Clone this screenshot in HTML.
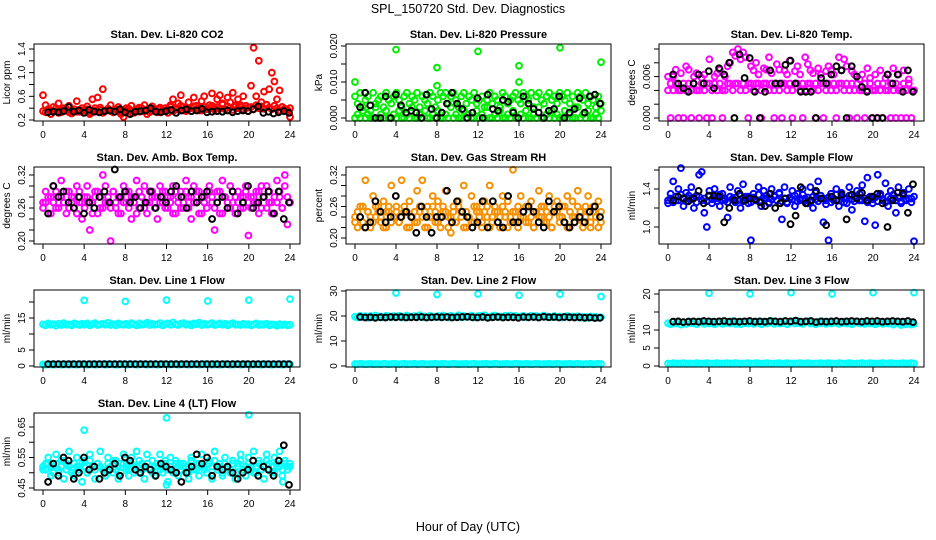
<!DOCTYPE html>
<html><head><meta charset="utf-8"><style>
html,body{margin:0;padding:0;background:#fff;}
svg{display:block;font-family:"Liberation Sans",sans-serif;}
</style></head><body>
<svg id="chart" width="936" height="540" viewBox="0 0 936 540" xmlns="http://www.w3.org/2000/svg">
<rect x="0" y="0" width="936" height="540" fill="#fff"/>
<text x="468" y="13" text-anchor="middle" font-size="12.5">SPL_150720  Std. Dev. Diagnostics</text>
<text x="468" y="531" text-anchor="middle" font-size="12.5">Hour of Day (UTC)</text>
</svg>
<script>
const xTicks = [0,4,8,12,16,20,24];
// CO2
const co2A = [.62,.45,.38,.30,.42,.35,.48,.33,.40,.36,.44,.31,.38,.52,.34,.40,.37,.43,.30,.55,.36,.58,.41,.72,.35,.39,.45,.33,.38,.42,.30,.25,.40,.36,.44,.32,.38,.41,.35,.45,.30,.39,.43,.37,.33,.41,.36,.40,.32,.45,.55,.38,.48,.62,.42,.35,.50,.40,.58,.44,.36,.52,.60,.38,.45,.65,.40,.55,.62,.48,.38,.58,.50,.66,.42,.55,.45,.60,.40,.35,.78,1.42,.60,1.20,.50,.68,.45,.72,1.0,.85,.55,.70,.42,.38,.35,.25];
const co2B = [.35,.33,.38,.36,.34,.40,.32,.37,.35,.39,.33,.36,.38,.34,.37,.35,.36,.38,.33,.35,.40,.34,.37,.32,.36,.39,.35,.33,.38,.36,.34,.37,.35,.39,.33,.36,.38,.34,.40,.35,.37,.33,.36,.39,.34,.38,.35,.36,.38,.42,.35,.40,.37,.44,.36,.41,.39,.35,.43,.38,.40,.36,.42,.39,.40,.44,.37,.42,.39,.46,.38,.43,.41,.37,.45,.40,.42,.38,.44,.41,.42,.38,.45,.40,.43,.39,.46,.41,.38,.44,.40,.36,.42,.39,.37,.40];
const co2K = [.33,.34,.33,.35,.42,.34,.36,.32,.37,.34,.33,.35,.36,.34,.38,.33,.30,.34,.35,.36,.40,.34,.33,.35,.37,.32,.36,.38,.35,.36,.39,.33,.34,.35,.34,.36,.33,.35,.36,.35,.38,.43,.32,.34,.31,.33,.35,.32];
// Pressure
const presA = [.006,.004,.007,.003,.005,.006,.002,.007,.004,.005,.006,.003,.007,.005,.004,.006,.007,.005,.003,.006,.007,.004,.006,.005,.007,.003,.006,.005,.004,.007,.006,.003,.005,.007,.006,.007,.004,.006,.007,.005,.003,.006,.007,.004,.006,.005,.007,.004,.005,.006,.003,.005,.007,.004,.006,.005,.003,.007,.006,.004,.005,.006,.007,.005,.004,.007,.006,.005,.007,.003,.006,.007,.005,.004,.006,.007,.005,.006,.004,.007,.006,.005,.007,.004,.006,.003,.007,.006,.005,.007,.004,.006,.005,.003,.006,.004];
const presB = [0,.001,0,.002,0,.001,0,0,.003,0,.001,0,.002,0,0,.001,0,.002,0,0,.001,0,.003,0,0,.001,0,.002,0,0,.001,0,.002,0,0,.001,0,.003,0,.001,0,0,.002,0,.001,0,0,.002,0,.001,0,.003,0,0,.001,0,.002,0,0,.001,0,.002,0,0,.001,0,.002,0,0,.001,0,.003,0,0,.001,0,.002,0,.001,0,0,.002,0,.001,0,0,.003,0,.001,0,.002,0,0,.001,0,.002];
const presK = [.003,.007,.0035,0,0,.006,0,.0065,.0035,.0015,.002,.0015,0,.0065,.0025,0,.0015,.004,.007,.004,.0025,0,.0015,.0055,0,.0065,.0025,.002,.005,.0045,.0015,0,.006,.004,.0025,.0015,0,.002,.0025,.006,0,.0015,.0025,.0055,.0015,.006,.0065,.004];
const presSpikeHours = [0,4,8,8,12,16,16,20,24];
const presSpikes = [.010,.019,.014,.009,.0185,.0145,.010,.0195,.0155];
// Li-820 temp
const tempA = [.004,.005,.004,.005,.004,.004,.005,.004,.005,.004,.005,.004,.004,.005,.004,.005,.005,.004,.005,.004,.005,.004,.004,.005,.005,.004,.005,.005,.004,.005,.004,.005,.005,.004,.005,.005,.004,.005,.005,.004,.005,.004,.005,.004,.005,.005,.004,.005,.004,.005,.005,.004,.005,.004,.005,.005,.004,.005,.004,.005,.005,.004,.005,.004,.005,.004,.005,.005,.004,.005,.004,.005,.004,.005,.004,.004,.005,.004,.005,.004,.004,.005,.004,.005,.004,.004,.005,.004,.005,.004,.004,.005,.004,.005,.004,.004];
const tempB = [.006,0,.006,.007,0,.0065,0,.0075,.007,0,.006,.0065,0,.0058,.0063,0,.0085,0,.006,.0065,.007,0,.006,.0075,.008,.0095,.009,.010,.0085,.0095,.0088,0,.0075,.0069,.008,.0063,0,.0072,.007,.0088,.0065,0,.0078,.007,0,.0069,.0063,.0083,0,.0068,.0075,.0063,0,.0088,.0078,.0069,.0065,0,.0072,.0063,0,.0068,.0075,.0069,.0063,0,.0088,.0069,.0085,.0075,0,.0068,.0063,0,.0056,.0063,0,.0072,.0058,0,.0063,0,.0069,0,.0058,.0063,0,.0072,0,.0063,0,.0069,0,.0056,0,.004];
const tempK = [.0063,.005,.0043,.0038,.005,.0063,.005,.0068,.0043,.0072,.0063,.008,0,.0092,.0058,.0087,.0038,0,.0038,.0069,.005,.005,.0077,.0083,.005,.0038,.0038,.0038,0,.0058,.005,.0063,.0075,.0069,0,.0075,.006,.0045,.0038,0,0,0,.0063,.005,.0063,.0038,.0069,.0038];
// Box temp
const boxA = [.27,.29,.25,.28,.30,.26,.28,.31,.27,.25,.29,.28,.26,.30,.27,.24,.28,.30,.22,.27,.29,.25,.28,.26,.30,.27,.20,.29,.26,.28,.25,.30,.27,.29,.24,.28,.31,.26,.28,.30,.25,.27,.29,.28,.24,.30,.27,.29,.26,.28,.30,.25,.27,.29,.26,.31,.28,.24,.30,.27,.29,.25,.28,.26,.30,.27,.22,.29,.25,.31,.28,.26,.30,.27,.25,.29,.28,.26,.30,.21,.28,.27,.29,.25,.30,.28,.26,.29,.27,.25,.31,.28,.26,.30,.23,.27];
const boxB = [.26,.27,.28,.25,.27,.29,.26,.28,.27,.29,.26,.27,.28,.25,.29,.27,.26,.28,.27,.25,.28,.29,.26,.32,.27,.28,.26,.29,.27,.25,.28,.27,.29,.26,.28,.27,.25,.29,.28,.26,.27,.29,.28,.26,.28,.27,.29,.26,.28,.27,.25,.29,.28,.26,.27,.29,.26,.28,.27,.29,.25,.28,.27,.26,.29,.28,.26,.27,.29,.25,.28,.27,.26,.29,.28,.27,.26,.28,.29,.27,.26,.28,.27,.29,.26,.28,.30,.27,.25,.28,.27,.29,.26,.32,.28,.27];
const boxK = [.25,.30,.28,.29,.27,.26,.28,.25,.27,.26,.28,.29,.27,.33,.28,.29,.27,.28,.26,.27,.29,.26,.28,.27,.29,.30,.28,.26,.29,.27,.28,.29,.24,.27,.28,.26,.29,.25,.27,.30,.26,.27,.28,.29,.25,.29,.24,.27];
// RH
const rhA = [.24,.22,.26,.23,.31,.25,.22,.28,.24,.26,.23,.27,.22,.25,.30,.24,.26,.23,.31,.25,.22,.27,.24,.23,.29,.25,.31,.22,.26,.24,.28,.23,.27,.22,.25,.29,.24,.21,.26,.23,.27,.25,.30,.22,.24,.28,.23,.26,.25,.22,.27,.24,.30,.23,.26,.25,.22,.28,.24,.27,.23,.33,.25,.22,.28,.24,.26,.23,.27,.22,.25,.29,.24,.26,.23,.28,.22,.25,.27,.24,.26,.23,.28,.22,.27,.24,.29,.25,.23,.26,.28,.22,.25,.24,.27,.23];
const rhB = [.23,.25,.24,.26,.22,.25,.24,.23,.26,.25,.24,.22,.25,.26,.23,.24,.25,.23,.24,.26,.25,.22,.24,.25,.23,.26,.24,.25,.22,.24,.26,.25,.23,.24,.26,.25,.22,.24,.25,.23,.26,.24,.22,.25,.24,.23,.26,.25,.24,.23,.25,.26,.22,.24,.25,.23,.24,.26,.25,.22,.24,.25,.23,.26,.24,.25,.23,.26,.24,.22,.25,.24,.26,.23,.25,.24,.22,.26,.25,.23,.24,.26,.22,.25,.24,.23,.26,.25,.22,.24,.25,.23,.26,.24,.22,.25];
const rhK = [.24,.22,.23,.27,.25,.23,.24,.28,.24,.25,.24,.21,.26,.24,.21,.24,.24,.29,.23,.27,.25,.24,.22,.23,.27,.22,.27,.23,.22,.28,.23,.23,.25,.26,.25,.23,.22,.27,.25,.26,.23,.22,.23,.24,.23,.25,.26,.24];
// Sample flow
const flowA = [1.25,1.35,1.48,1.28,1.40,1.62,1.22,1.36,1.30,1.42,1.20,1.33,1.55,1.58,1.15,1.00,1.38,1.25,1.40,1.30,1.22,1.35,1.28,1.10,1.42,1.30,1.26,1.38,1.20,1.45,1.32,1.25,0.86,1.35,1.28,1.42,1.22,1.38,1.30,1.25,1.40,1.33,1.28,1.36,1.08,1.42,1.25,1.30,1.38,1.22,1.35,1.28,1.40,1.30,1.25,1.42,1.20,1.36,1.48,1.30,1.05,1.24,0.86,1.35,1.28,1.40,1.22,1.36,1.30,1.25,1.42,1.18,1.32,1.38,1.28,1.44,1.06,1.52,1.30,1.25,1.02,1.55,1.35,1.28,1.46,1.22,1.38,1.30,1.15,1.42,1.25,1.36,1.28,1.40,1.30,0.85];
const flowB = [1.28,1.30,1.26,1.32,1.28,1.34,1.30,1.27,1.33,1.29,1.31,1.26,1.32,1.28,1.30,1.27,1.33,1.29,1.31,1.27,1.34,1.28,1.30,1.26,1.32,1.29,1.31,1.28,1.33,1.27,1.30,1.32,1.26,1.31,1.28,1.34,1.27,1.30,1.33,1.26,1.29,1.32,1.28,1.35,1.27,1.30,1.26,1.31,1.29,1.33,1.27,1.30,1.34,1.28,1.31,1.26,1.32,1.29,1.27,1.33,1.30,1.28,1.31,1.26,1.30,1.34,1.28,1.32,1.26,1.30,1.33,1.29,1.27,1.31,1.35,1.28,1.30,1.26,1.32,1.29,1.31,1.27,1.33,1.29,1.26,1.32,1.30,1.34,1.28,1.31,1.27,1.33,1.29,1.30,1.26,1.32];
const flowK = [1.28,1.32,1.30,1.27,1.30,1.38,1.25,1.33,1.33,1.32,1.05,1.20,1.28,1.35,1.28,1.30,1.29,1.26,1.22,1.35,1.20,1.25,1.30,1.03,1.12,1.42,1.25,1.28,1.38,1.30,1.02,1.32,1.28,1.34,1.08,1.34,1.30,1.36,1.28,1.32,1.35,1.25,1.00,1.28,1.36,1.35,1.15,1.45];
// Line flows
const spikeHours = [4,8,12,16,20,24];
const line1A = [13.0,12.7,13.3,12.9,13.1,12.6,13.2,12.8,13.4,12.9,13.0,12.7,13.3,13.1,12.8,13.2,12.9,13.3,12.7,13.1,13.4,12.8,13.0,13.2,12.9,13.5,12.8,13.1,12.7,13.3,13.0,12.9,13.2,12.8,13.4,13.0,12.7,13.3,12.9,13.1,13.5,12.8,13.2,12.9,13.0,13.4,12.7,13.1,13.3,12.9,13.6,13.0,12.8,13.2,13.4,12.9,13.1,12.7,13.3,13.0,13.5,12.8,13.2,12.9,13.1,13.4,12.8,13.0,13.3,12.9,13.2,12.7,13.1,13.4,12.9,13.0,12.8,13.2,12.9,13.1,12.7,13.0,13.3,12.8,13.1,12.9,13.2,12.7,13.0,12.9,12.6,13.1,12.8,13.0,12.7,12.9];
const line1B = [.5,.4,.6,.5,.4,.5,.6,.4,.5,.5,.4,.6,.5,.4,.5,.6,.5,.4,.5,.6,.4,.5,.5,.6,.4,.5,.6,.5,.4,.5,.5,.6,.4,.5,.6,.5,.4,.5,.6,.5,.4,.5,.5,.6,.4,.5,.6,.5,.4,.5,.5,.6,.4,.5,.6,.5,.4,.5,.5,.6,.4,.5,.6,.5,.5,.4,.6,.5,.4,.5,.6,.5,.4,.5,.5,.6,.4,.5,.6,.5,.4,.5,.5,.6,.4,.5,.6,.5,.4,.5,.5,.6,.4,.5,.6,.5];
const line1K = [.6,.6,.6,.6,.6,.6,.6,.6,.6,.6,.6,.6,.6,.6,.6,.6,.6,.6,.6,.6,.6,.6,.6,.6,.6,.6,.6,.6,.6,.6,.6,.6,.6,.6,.6,.6,.6,.6,.6,.6,.6,.6,.6,.6,.6,.6,.6,.6];
const line1Spikes = [20.5,20.2,20.6,20.3,20.6,20.9];
const line2A = [19.7,19.4,20.1,19.6,19.9,19.3,20.0,19.5,20.2,19.7,19.8,19.4,20.1,19.9,19.5,20.0,19.6,20.1,19.4,19.8,20.2,19.5,19.7,20.0,19.6,20.3,19.5,19.8,19.4,20.1,19.7,19.6,20.0,19.5,20.2,19.7,19.4,20.1,19.6,19.8,20.3,19.5,20.0,19.6,19.7,20.2,19.4,19.8,20.1,19.6,20.3,19.7,19.5,20.0,20.2,19.6,19.8,19.4,20.1,19.7,20.2,19.5,20.0,19.6,19.8,20.1,19.5,19.7,20.1,19.6,20.0,19.4,19.8,20.2,19.6,19.7,19.5,20.0,19.6,19.8,19.4,19.7,20.0,19.5,19.8,19.6,19.9,19.3,19.7,19.6,19.2,19.8,19.4,19.7,19.3,19.5];
const line2B = [.8,.7,.9,.8,.7,.8,.9,.7,.8,.8,.7,.9,.8,.7,.8,.9,.8,.7,.8,.9,.7,.8,.8,.9,.7,.8,.9,.8,.7,.8,.8,.9,.7,.8,.9,.8,.7,.8,.9,.8,.7,.8,.8,.9,.7,.8,.9,.8,.7,.8,.8,.9,.7,.8,.9,.8,.7,.8,.8,.9,.7,.8,.9,.8,.8,.7,.9,.8,.7,.8,.9,.8,.7,.8,.8,.9,.7,.8,.9,.8,.7,.8,.8,.9,.7,.8,.9,.8,.7,.8,.8,.9,.7,.8,.9,.8];
const line2K = [19.6,19.4,19.5,19.3,19.5,19.4,19.6,19.5,19.6,19.4,19.5,19.5,19.6,19.4,19.5,19.6,19.5,19.6,19.4,19.5,19.6,19.7,19.5,19.4,19.6,19.3,19.5,19.6,19.4,19.5,19.5,19.3,19.6,19.5,19.6,19.4,19.7,19.5,19.6,19.4,19.6,19.5,19.4,19.5,19.3,19.4,19.2,19.3];
const line2Spikes = [29.2,28.6,28.8,28.3,28.7,27.8];
const line3A = [11.9,11.6,12.3,11.8,12.1,11.5,12.2,11.7,12.4,11.9,12.0,11.6,12.3,12.1,11.7,12.2,11.8,12.3,11.6,12.0,12.4,11.7,11.9,12.2,11.8,12.5,11.7,12.0,11.6,12.3,11.9,11.8,12.2,11.7,12.4,11.9,11.6,12.3,11.8,12.0,12.5,11.7,12.2,11.8,11.9,12.4,11.6,12.0,12.3,11.8,12.5,11.9,11.7,12.2,12.4,11.8,12.0,11.6,12.3,11.9,12.4,11.7,12.2,11.8,12.0,12.3,11.7,11.9,12.3,11.8,12.2,11.6,12.0,12.4,11.8,11.9,11.7,12.2,11.8,12.0,11.6,11.9,12.2,11.7,12.0,11.8,12.1,11.5,11.9,11.8,11.4,12.0,11.6,11.9,11.5,11.7];
const line3B = [.7,.6,.8,.7,.6,.7,.8,.6,.7,.7,.6,.8,.7,.6,.7,.8,.7,.6,.7,.8,.6,.7,.7,.8,.6,.7,.8,.7,.6,.7,.7,.8,.6,.7,.8,.7,.6,.7,.8,.7,.6,.7,.7,.8,.6,.7,.8,.7,.6,.7,.7,.8,.6,.7,.8,.7,.6,.7,.7,.8,.6,.7,.8,.7,.7,.6,.8,.7,.6,.7,.8,.7,.6,.7,.7,.8,.6,.7,.8,.7,.6,.7,.7,.8,.6,.7,.8,.7,.6,.7,.7,.8,.6,.7,.8,.7];
const line3K = [12.3,12.4,12.2,12.3,12.4,12.3,12.5,12.4,12.3,12.4,12.5,12.3,12.4,12.3,12.4,12.5,12.3,12.4,12.3,12.5,12.4,12.3,12.5,12.4,12.6,12.3,12.4,12.5,12.2,12.4,12.3,12.4,12.5,12.3,12.4,12.5,12.4,12.3,12.5,12.4,12.5,12.3,12.4,12.5,12.4,12.3,12.5,12.2];
const line3Spikes = [20.2,20.0,20.4,20.0,20.4,20.4];
const line4A = [.51,.53,.55,.49,.52,.56,.50,.54,.48,.53,.57,.51,.49,.55,.52,.47,.54,.50,.56,.52,.48,.53,.57,.51,.49,.55,.52,.50,.54,.48,.53,.56,.51,.49,.55,.52,.57,.50,.53,.48,.56,.51,.54,.49,.52,.56,.50,.53,.47,.55,.51,.54,.49,.53,.52,.50,.48,.55,.51,.53,.49,.56,.52,.50,.54,.48,.57,.51,.53,.49,.55,.52,.50,.54,.48,.53,.56,.51,.49,.55,.52,.57,.50,.54,.51,.48,.56,.53,.50,.55,.52,.57,.49,.54,.51,.53];
const line4B = [.52,.51,.53,.52,.50,.53,.51,.52,.54,.51,.52,.50,.53,.52,.51,.53,.52,.50,.54,.52,.51,.53,.52,.51,.50,.53,.52,.54,.51,.52,.50,.53,.52,.51,.53,.50,.52,.54,.51,.52,.53,.51,.50,.52,.53,.51,.52,.54,.51,.52,.50,.53,.52,.51,.53,.52,.50,.54,.52,.51,.53,.52,.51,.50,.53,.52,.54,.51,.52,.50,.53,.52,.51,.53,.50,.52,.54,.51,.52,.53,.51,.50,.52,.53,.51,.52,.54,.51,.52,.50,.53,.52,.51,.53,.52,.52];
const line4K = [.47,.53,.49,.55,.54,.48,.50,.55,.51,.52,.48,.50,.51,.53,.49,.55,.54,.51,.50,.52,.51,.49,.53,.52,.51,.50,.47,.50,.52,.56,.53,.55,.49,.52,.51,.52,.50,.48,.50,.51,.54,.49,.52,.51,.49,.54,.59,.46];
const line4SpikeHours = [4,12,20,12,23.3];
const line4Spikes = [.64,.68,.69,.46,.47];

const cols = [[34,300],[346,611],[659,924]];
const rowTops = [44,167,290,413];
const boxH = 77;

const panels = [
 {name:'co2',title:'Stan. Dev. Li-820 CO2',ylab:'Licor ppm',c:0,r:0,color:'#ff0000',v0:.2,p0:120,v1:1.4,p1:49,ticks:[.2,.4,.6,.8,1.0,1.2,1.4],labels:['0.2','0.6','1.0','1.4'],lv:[.2,.6,1.0,1.4],A:co2A,B:co2B,K:co2K},
 {name:'pressure',title:'Stan. Dev. Li-820 Pressure',ylab:'kPa',c:1,r:0,color:'#00ee00',v0:0,p0:118,v1:.02,p1:46,ticks:[0,.005,.01,.015,.02],labels:['0.000','0.010','0.020'],lv:[0,.01,.02],A:presA,B:presB,K:presK,SH:presSpikeHours,S:presSpikes},
 {name:'li820-temp',title:'Stan. Dev. Li-820 Temp.',ylab:'degrees C',c:2,r:0,color:'#ff00ff',v0:0,p0:118,v1:.006,p1:76.6,ticks:[0,.002,.004,.006,.008,.010],labels:['0.000','0.006'],lv:[0,.006],A:tempA,B:tempB,K:tempK},
 {name:'box-temp',title:'Stan. Dev. Amb. Box Temp.',ylab:'degrees C',c:0,r:1,color:'#ff00ff',v0:.2,p0:241,v1:.32,p1:175,ticks:[.2,.22,.24,.26,.28,.30,.32],labels:['0.20','0.26','0.32'],lv:[.2,.26,.32],A:boxA,B:boxB,K:boxK},
 {name:'gas-rh',title:'Stan. Dev. Gas Stream RH',ylab:'percent',c:1,r:1,color:'#f59000',v0:.2,p0:238,v1:.32,p1:175,ticks:[.2,.22,.24,.26,.28,.30,.32],labels:['0.20','0.26','0.32'],lv:[.2,.26,.32],A:rhA,B:rhB,K:rhK},
 {name:'sample-flow',title:'Stan. Dev. Sample Flow',ylab:'ml/min',c:2,r:1,color:'#0000ff',v0:1.0,p0:227,v1:1.4,p1:189,ticks:[1.0,1.2,1.4,1.6],labels:['1.0','1.4'],lv:[1.0,1.4],A:flowA,B:flowB,K:flowK},
 {name:'line1-flow',title:'Stan. Dev. Line 1 Flow',ylab:'ml/min',c:0,r:2,color:'#00ffff',v0:0,p0:366,v1:15,p1:318,ticks:[0,5,10,15,20],labels:['0','5','15'],lv:[0,5,15],A:line1A,B:line1B,K:line1K,SH:spikeHours,S:line1Spikes},
 {name:'line2-flow',title:'Stan. Dev. Line 2 Flow',ylab:'ml/min',c:1,r:2,color:'#00ffff',v0:0,p0:366,v1:30,p1:291,ticks:[0,10,20,30],labels:['0','10','20','30'],lv:[0,10,20,30],A:line2A,B:line2B,K:line2K,SH:spikeHours,S:line2Spikes},
 {name:'line3-flow',title:'Stan. Dev. Line 3 Flow',ylab:'ml/min',c:2,r:2,color:'#00ffff',v0:0,p0:366,v1:20,p1:294,ticks:[0,5,10,15,20],labels:['0','5','10','20'],lv:[0,5,10,20],A:line3A,B:line3B,K:line3K,SH:spikeHours,S:line3Spikes},
 {name:'line4-flow',title:'Stan. Dev. Line 4 (LT) Flow',ylab:'ml/min',c:0,r:3,color:'#00ffff',v0:.45,p0:488,v1:.65,p1:427,ticks:[.45,.5,.55,.6,.65],labels:['0.45','0.55','0.65'],lv:[.45,.55,.65],A:line4A,B:line4B,K:line4K,SH:line4SpikeHours,S:line4Spikes}
];

const NS = 'http://www.w3.org/2000/svg';
const svg = document.getElementById('chart');
function mk(tag, attrs, parent){
  const e = document.createElementNS(NS, tag);
  for (const k in attrs) e.setAttribute(k, attrs[k]);
  parent.appendChild(e);
  return e;
}
panels.forEach(p => {
  const L = cols[p.c][0], R = cols[p.c][1], T = rowTops[p.r], B = T + boxH;
  const xs = h => (L + 9) + h / 24 * (R - L - 19);
  const ys = v => p.p0 + (v - p.v0) / (p.v1 - p.v0) * (p.p1 - p.p0);
  const g = mk('g', {}, svg);
  
  
  const t = mk('text', {x:(L+R)/2, y:T-6, 'text-anchor':'middle', 'font-size':'11', 'font-weight':'bold'}, g);
  t.textContent = p.title;
  
  
  const pts = mk('g', {fill:'none', 'stroke-width':'2'}, g);
  
  
  const draw = (h, v, col, nm) => {
    const c = mk('circle', {cx:xs(h).toFixed(1), cy:ys(v).toFixed(1), r:'2.9', stroke:col}, pts);
    
    
  };
  p.B.forEach((v,i) => draw(i*24/(p.B.length-1), v, p.color, p.name + '-point'));
  p.A.forEach((v,i) => draw(i*24/(p.A.length-1), v, p.color, p.name + '-point'));
  if (p.S) p.S.forEach((v,i) => draw(p.SH[i], v, p.color, p.name + '-outlier'));
  p.K.forEach((v,i) => draw(0.5 + i*23.4/(p.K.length-1), v, '#000', p.name + '-hourly-point'));
  const box = mk('rect', {x:L, y:T, width:R-L, height:boxH, fill:'none', stroke:'#000', 'stroke-width':'1'}, g);
  
  
  const ax = mk('g', {stroke:'#000', 'stroke-width':'1'}, g);
  
  
  mk('line', {x1:xs(0), y1:B, x2:xs(24), y2:B}, ax);
  xTicks.forEach(h => {
    mk('line', {x1:xs(h), y1:B, x2:xs(h), y2:B+5}, ax);
    const tl = mk('text', {x:xs(h), y:B+17, 'text-anchor':'middle', 'font-size':'10', stroke:'none', fill:'#000'}, g);
    tl.textContent = h;
    
    
  });
  const tk = p.ticks.filter(v => ys(v) >= T-1 && ys(v) <= B+1);
  mk('line', {x1:L, y1:ys(tk[0]), x2:L, y2:ys(tk[tk.length-1])}, ax);
  tk.forEach(v => mk('line', {x1:L-5, y1:ys(v), x2:L, y2:ys(v)}, ax));
  p.lv.forEach((v,i) => {
    const yy = ys(v);
    const tl = mk('text', {x:L-9, y:yy, 'text-anchor':'middle', 'font-size':'10', transform:`rotate(-90 ${L-9} ${yy})`}, g);
    tl.textContent = p.labels[i];
    
    
  });
  const yl = mk('text', {x:L-24, y:(T+B)/2, 'text-anchor':'middle', 'font-size':'10', transform:`rotate(-90 ${L-24} ${(T+B)/2})`}, g);
  yl.textContent = p.ylab;
  
  
});
</script>
</body></html>
